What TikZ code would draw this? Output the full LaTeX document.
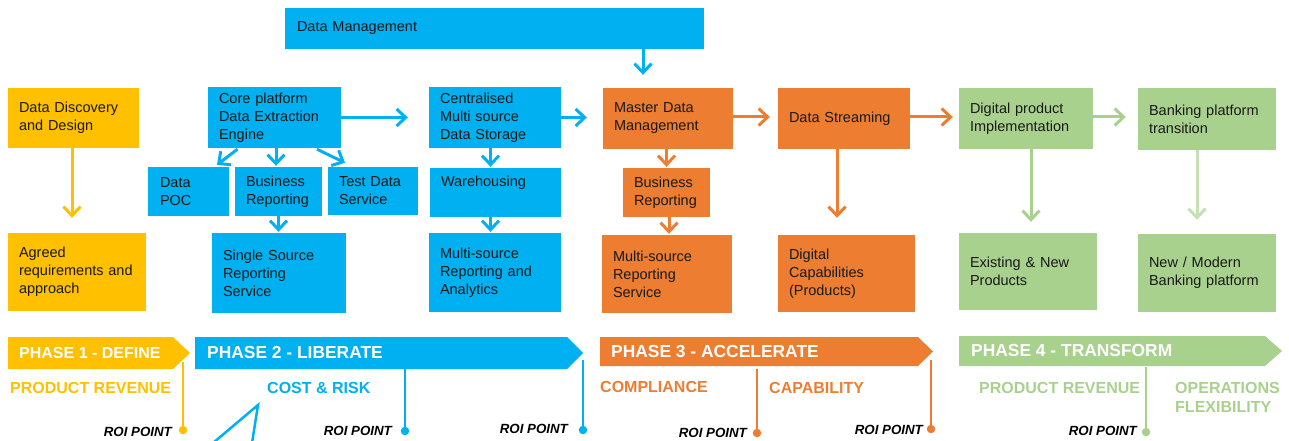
\documentclass[tikz,border=0pt]{standalone}
\usepackage{fontspec}
\setmainfont{Liberation Sans}
\usetikzlibrary{arrows.meta,calc}
\definecolor{cyel}{HTML}{FFC000}
\definecolor{cblue}{HTML}{00B0F0}
\definecolor{corg}{HTML}{ED7D31}
\definecolor{cgrn}{HTML}{A9D18E}
\definecolor{cgrnl}{HTML}{C5E0B4}
\begin{document}
\begin{tikzpicture}[x=1pt,y=-1pt,
  box/.style={inner sep=0pt, align=left, text=black!90, font=\fontsize{14.5}{18}\selectfont},
  arr/.style={line width=3pt, -{Straight Barb[length=9pt,width=17pt]}},
  phase/.style={inner sep=0pt, anchor=west, text=white, font=\fontsize{17.4}{20}\selectfont\bfseries},
  cat/.style={inner sep=0pt, anchor=west, align=left, font=\fontsize{16}{19.5}\selectfont\bfseries},
  roi/.style={inner sep=0pt, anchor=east, text=black, font=\fontsize{13.3}{16}\selectfont\bfseries\itshape},
  dot/.style={circle, inner sep=0pt, minimum size=8.5pt},
  vline/.style={line width=2pt}]
\useasboundingbox (0,0) rectangle (1289,441);

% ---------- boxes ----------
\node[box, fill=cblue, minimum width=419pt, minimum height=41pt, text width=395pt] (dm) at (494.5,28.5) {Data Management};

\node[box, fill=cyel, minimum width=131pt, minimum height=60pt, text width=109pt] (ddd) at (73.5,118) {Data Discovery\\and Design};
\node[box, fill=cyel, minimum width=138pt, minimum height=78pt, text width=116pt] (agr) at (77,272) {Agreed\\requirements and\\approach};

\node[box, fill=cblue, minimum width=133pt, minimum height=61pt, text width=111pt] (core) at (274.5,117.5) {Core platform\\Data Extraction\\Engine};
\node[box, fill=cblue, minimum width=81pt, minimum height=49pt, text width=57pt] (poc) at (188.5,191.5) {Data\\POC};
\node[box, fill=cblue, minimum width=87pt, minimum height=49pt, text width=65pt] (br1) at (278.5,191.5) {Business\\Reporting};
\node[box, fill=cblue, minimum width=90pt, minimum height=48pt, text width=68pt] (tds) at (373,191) {Test Data\\Service};
\node[box, fill=cblue, minimum width=134pt, minimum height=80pt, text width=112pt] (ssr) at (279,273) {Single Source\\Reporting\\Service};

\node[box, fill=cblue, minimum width=132pt, minimum height=61pt, text width=110pt] (cen) at (495,117.5) {Centralised\\Multi source\\Data Storage};
\node[box, fill=cblue, minimum width=131pt, minimum height=49pt, text width=109pt] (wh) at (495.5,192.5) {Warehousing\\[4pt]\mbox{}};
\node[box, fill=cblue, minimum width=132pt, minimum height=79pt, text width=110pt] (mra) at (495,272.5) {Multi-source\\Reporting and\\Analytics};

\node[box, fill=corg, minimum width=130pt, minimum height=61pt, text width=108pt] (mdm) at (668,118.5) {Master Data\\Management};
\node[box, fill=corg, minimum width=87pt, minimum height=49pt, text width=65pt] (br2) at (666.5,192.5) {Business\\Reporting};
\node[box, fill=corg, minimum width=130pt, minimum height=78pt, text width=108pt] (mrs) at (667,274) {Multi-source\\Reporting\\Service};

\node[box, fill=corg, minimum width=132pt, minimum height=61pt, text width=110pt] (ds) at (844,118.5) {Data Streaming};
\node[box, fill=corg, minimum width=137pt, minimum height=77pt, text width=115pt] (dc) at (846.5,273.5) {Digital\\Capabilities\\(Products)};

\node[box, fill=cgrn, minimum width=134pt, minimum height=61pt, text width=112pt] (dpi) at (1026,118.5) {Digital product\\Implementation};
\node[box, fill=cgrn, minimum width=138pt, minimum height=62pt, text width=116pt] (bpt) at (1207,119) {Banking platform\\transition};
\node[box, fill=cgrn, minimum width=138pt, minimum height=77pt, text width=116pt] (enp) at (1028,271.5) {Existing \& New\\Products};
\node[box, fill=cgrn, minimum width=138pt, minimum height=78pt, text width=116pt] (nmb) at (1207,273) {New / Modern\\Banking platform};

% ---------- arrows ----------
\draw[arr, cblue] ($(dm.south -| mdm.north)+(-25,0)$) -- ($(mdm.north)+(-25,-13)$);
\draw[arr, cyel] ($(ddd.south)+(-1.5,0)$) -- ($(agr.north -| ddd.south)+(-1.5,-15)$);

\draw[arr, cblue] (core.east) -- ($(cen.west)+(-21,0)$);
\draw[arr, cblue] ($(core.south)+(-37,1)$) -- ($(poc.north)+(28.5,-2)$);
\draw[arr, cblue] ($(core.south)+(1.5,0)$) -- ($(br1.north)+(-2.5,-1)$);
\draw[arr, cblue] ($(core.south)+(42.5,1)$) -- ($(tds.north)+(-28,-4)$);
\draw[arr, cblue] (br1.south) -- ($(br1.south |- ssr.north)+(0,-1)$);

\draw[arr, cblue] ($(cen.south)+(-4.5,0)$) -- ($(wh.north)+(-5,-1)$);
\draw[arr, cblue] ($(wh.south)+(-5,0)$) -- ($(mra.north)+(-4.5,-1)$);
\draw[arr, cblue] (cen.east) -- ($(cen.east -| mdm.west)+(-16,0)$);

\draw[arr, corg] (mdm.south -| br2.north) -- ($(br2.north)+(0,-1)$);
\draw[arr, corg] ($(br2.south)+(2.5,0)$) -- ($(mrs.north)+(2,-1)$);
\draw[arr, corg] ($(mdm.east)+(0,-1.5)$) -- ($(mdm.east -| ds.west)+(-8,-1.5)$);
\draw[arr, corg] ($(ds.south)+(-7,0)$) -- ($(ds.south |- dc.north)+(-7,-17)$);
\draw[arr, corg] ($(ds.east)+(0,-1.5)$) -- ($(ds.east -| dpi.west)+(-6,-1.5)$);

\draw[arr, cgrn] ($(dpi.east)+(0,-1.5)$) -- ($(dpi.east -| bpt.west)+(-12,-1.5)$);
\draw[arr, cgrn] ($(dpi.south)+(5,0)$) -- ($(dpi.south |- enp.north)+(5,-11)$);
\draw[arr, cgrnl] ($(bpt.south)+(-10,0)$) -- ($(bpt.south |- nmb.north)+(-10,-14)$);

% ---------- phase banners ----------
\fill[cyel] (8,337) -- (173,337) -- (190,353) -- (173,369) -- (8,369) -- cycle;
\fill[cblue] (195,337) -- (567,337) -- (583,353) -- (567,369) -- (195,369) -- cycle;
\fill[corg] (600,337) -- (918,337) -- (933,351.5) -- (918,366) -- (600,366) -- cycle;
\fill[cgrn] (959,336) -- (1265,336) -- (1282,351) -- (1265,366) -- (959,366) -- cycle;

\node[phase, font=\fontsize{16}{19}\selectfont\bfseries] (p1) at (19,353) {PHASE 1 - DEFINE};
\node[phase] (p2) at (207,353) {PHASE 2 - LIBERATE};
\node[phase] (p3) at (611,352) {PHASE 3 - ACCELERATE};
\node[phase] (p4) at (971,351) {PHASE 4 - TRANSFORM};

% ---------- category labels ----------
\node[cat, text=cyel] (c1) at (10,388) {PRODUCT REVENUE};
\node[cat, text=cblue] (c2) at (267,388) {COST \& RISK};
\node[cat, text=corg] (c3) at (600,387) {COMPLIANCE};
\node[cat, text=corg] (c4) at (769,388) {CAPABILITY};
\node[cat, text=cgrn] (c5) at (979,388) {PRODUCT REVENUE};
\node[cat, text=cgrn] (c6) at (1175,397.5) {OPERATIONS\\FLEXIBILITY};

% ---------- ROI points ----------
\coordinate (t1) at (183,362);
\coordinate (t2) at (405,369);
\coordinate (t3) at (583,360);
\coordinate (t4) at (757,369);
\coordinate (t5) at (931,360);
\coordinate (t6) at (1146,367);

\node[dot, fill=cyel] (d1) at (183,430) {};
\node[dot, fill=cblue] (d2) at (405,431) {};
\node[dot, fill=cblue] (d3) at (583,430) {};
\node[dot, fill=corg] (d4) at (757,433) {};
\node[dot, fill=corg] (d5) at (931,429) {};
\node[dot, fill=cgrn] (d6) at (1146,432) {};

\draw[vline, cyel] (t1) -- (d1.center);
\draw[vline, cblue] (t2) -- (d2.center);
\draw[vline, cblue] (t3) -- (d3.center);
\draw[vline, corg] (t4) -- (d4.center);
\draw[vline, corg] (t5) -- (d5.center);
\draw[vline, cgrn] (t6) -- (d6.center);

\node[roi] (r1) at (172,432) {ROI POINT};
\node[roi] (r2) at (392,431) {ROI POINT};
\node[roi] (r3) at (568,429) {ROI POINT};
\node[roi] (r4) at (747,433) {ROI POINT};
\node[roi] (r5) at (923,430) {ROI POINT};
\node[roi] (r6) at (1137,431) {ROI POINT};

% ---------- partial blue shape ----------
\coordinate (ta) at (258,405);
\coordinate (tb) at (213,443);
\coordinate (tc) at (252,443);
\draw[cblue, line width=2.5pt, line join=miter] (tb) -- (ta) -- (tc);
\end{tikzpicture}
\end{document}
